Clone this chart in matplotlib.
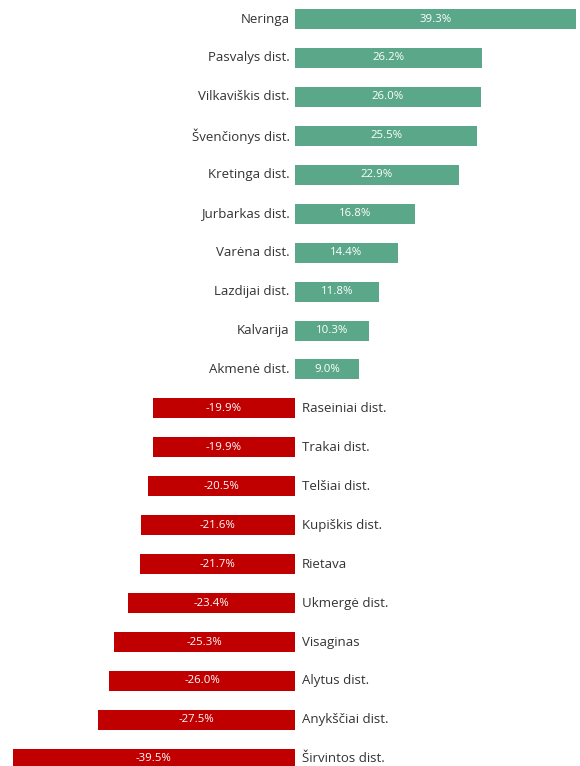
import matplotlib
matplotlib.use("Agg")
import matplotlib.pyplot as plt

categories = ["Neringa", "Pasvalys dist.", "Vilkaviškis dist.", "Švenčionys dist.",
              "Kretinga dist.", "Jurbarkas dist.", "Varėna dist.", "Lazdijai dist.",
              "Kalvarija", "Akmenė dist.", "Raseiniai dist.", "Trakai dist.",
              "Telšiai dist.", "Kupiškis dist.", "Rietava", "Ukmergė dist.",
              "Visaginas", "Alytus dist.", "Anykščiai dist.", "Širvintos dist."]
values = [39.3, 26.2, 26.0, 25.5, 22.9, 16.8, 14.4, 11.8, 10.3, 9.0,
          -19.9, -19.9, -20.5, -21.6, -21.7, -23.4, -25.3, -26.0, -27.5, -39.5]

GREEN = "#5aa889"
RED = "#c00000"
TXT = "#333333"

W, H = 580, 766
fig = plt.figure(figsize=(W / 100, H / 100), dpi=100)
ax = fig.add_axes([0, 0, 1, 1])

pxu = 7.15
x0 = 295
ax.set_xlim(-x0 / pxu, (W - x0) / pxu)
step = 38.94
c0 = 19
ax.set_ylim((H - c0) / step, -c0 / step)

ys = list(range(len(values)))
colors = [GREEN if v >= 0 else RED for v in values]
ax.barh(ys, values, height=20 / step, color=colors, edgecolor="none")

plt.rcParams['font.family'] = ['Open Sans', 'DejaVu Sans']
for y, v, c in zip(ys, values, categories):
    ax.text(v / 2, y, f"{v:.1f}%", ha="center", va="center", color="white",
            fontsize=8.2, family=['Open Sans', 'DejaVu Sans'])
    if v >= 0:
        ax.text(-0.75, y, c, ha="right", va="center", color=TXT, fontsize=9.5,
                family=['Open Sans', 'DejaVu Sans'])
    else:
        ax.text(0.95, y, c, ha="left", va="center", color=TXT, fontsize=9.5,
                family=['Open Sans', 'DejaVu Sans'])

ax.axis("off")
fig.savefig("out.png", dpi=100)
